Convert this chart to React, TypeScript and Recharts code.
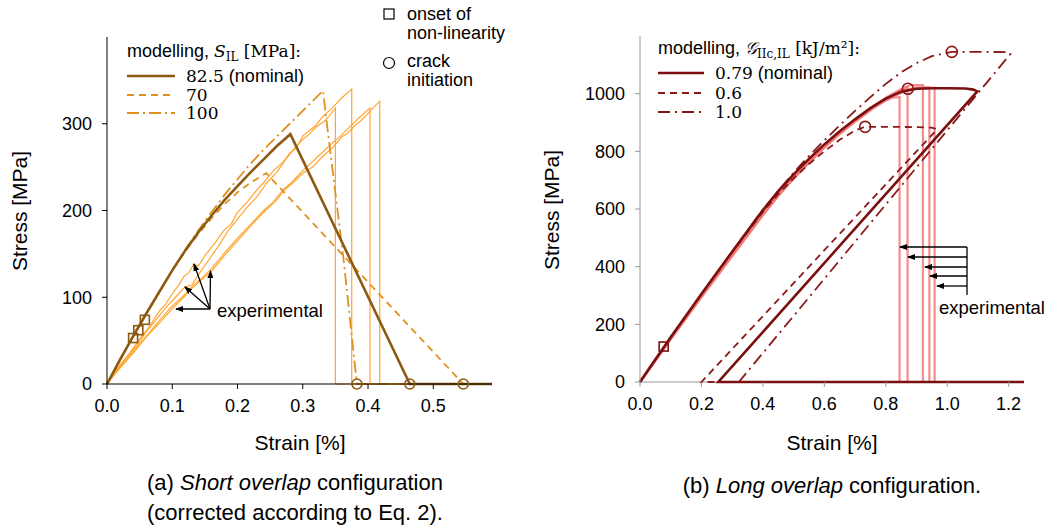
import React from 'react';
import { LineChart, Line, XAxis, YAxis } from 'recharts';

// ---------- (a) short overlap: strain [%], stress [MPa] ----------
const shortTicksX = [0, 0.1, 0.2, 0.3, 0.4, 0.5];
const shortTicksY = [0, 100, 200, 300];

const shortNominal = [
  [0, 0], [0.02, 28], [0.04, 55], [0.06, 81], [0.08, 106], [0.1, 131], [0.12, 154],
  [0.14, 175], [0.16, 194], [0.18, 212], [0.2, 228], [0.22, 244], [0.24, 259],
  [0.26, 274], [0.281, 288], [0.464, 0], [0.59, 0],
];
const short70 = [
  [0, 0], [0.02, 28], [0.04, 55], [0.06, 81], [0.08, 106], [0.1, 131], [0.12, 153],
  [0.14, 173], [0.16, 191], [0.18, 207], [0.2, 221], [0.22, 232], [0.244, 243],
  [0.546, 0], [0.59, 0],
];
const short100 = [
  [0, 0], [0.02, 28], [0.04, 55], [0.06, 81], [0.08, 106], [0.1, 131], [0.12, 155],
  [0.14, 177], [0.16, 198], [0.18, 218], [0.2, 236], [0.22, 254], [0.24, 270],
  [0.26, 285], [0.28, 300], [0.3, 315], [0.331, 338], [0.337, 300], [0.362, 147],
  [0.383, 0], [0.59, 0],
];
const shortExp1 = [
  [0, 0], [0.01, 12], [0.02, 22], [0.035, 36], [0.05, 52], [0.065, 66], [0.08, 84],
  [0.09, 92], [0.1, 104], [0.11, 114], [0.118, 124], [0.125, 128], [0.133, 138],
  [0.14, 136], [0.15, 148], [0.165, 162], [0.18, 178], [0.19, 184], [0.2, 198],
  [0.215, 210], [0.23, 224], [0.24, 232], [0.255, 246], [0.27, 256], [0.28, 266],
  [0.29, 272], [0.3, 286], [0.31, 292], [0.32, 298], [0.33, 308], [0.345, 318],
  [0.36, 330], [0.375, 340], [0.375, 0], [0.59, 0],
];
const shortExp2 = [
  [0, 0], [0.015, 16], [0.03, 30], [0.045, 44], [0.06, 60], [0.075, 74], [0.09, 88],
  [0.1, 96], [0.11, 104], [0.12, 112], [0.13, 114], [0.14, 126], [0.155, 142],
  [0.17, 158], [0.185, 176], [0.2, 190], [0.215, 204], [0.23, 216], [0.245, 232],
  [0.26, 244], [0.275, 260], [0.29, 274], [0.3, 282], [0.31, 288], [0.32, 296],
  [0.335, 304], [0.35, 318], [0.35, 0], [0.59, 0],
];
const shortExp3 = [
  [0, 0], [0.015, 14], [0.03, 27], [0.045, 40], [0.06, 54], [0.08, 70], [0.1, 87],
  [0.115, 98], [0.13, 110], [0.145, 120], [0.16, 130], [0.18, 148], [0.2, 165],
  [0.22, 182], [0.24, 198], [0.26, 212], [0.27, 222], [0.285, 232], [0.3, 243],
  [0.315, 250], [0.33, 262], [0.345, 272], [0.36, 285], [0.37, 290], [0.38, 298],
  [0.39, 304], [0.4, 312], [0.41, 320], [0.418, 326], [0.418, 0], [0.59, 0],
];
const shortExp4 = [
  [0, 0], [0.015, 15], [0.03, 28], [0.045, 42], [0.06, 55], [0.08, 73], [0.1, 90],
  [0.115, 100], [0.13, 112], [0.145, 122], [0.16, 133], [0.18, 151], [0.2, 168],
  [0.22, 184], [0.24, 200], [0.255, 210], [0.27, 224], [0.285, 234], [0.3, 246],
  [0.32, 260], [0.34, 274], [0.355, 284], [0.37, 295], [0.385, 306], [0.403, 318],
  [0.403, 0], [0.59, 0],
];
const shortOnset = [[0.04, 53], [0.048, 62], [0.058, 74]];
const shortCrack = [[0.383, 0], [0.464, 0], [0.546, 0]];

// ---------- (b) long overlap ----------
const longTicksX = [0, 0.2, 0.4, 0.6, 0.8, 1.0, 1.2];
const longTicksY = [0, 200, 400, 600, 800, 1000];
const longAxisLine = [[0, 0], [1.25, 0]];

const longNominal = [
  [0, 0], [0.05, 78], [0.1, 155], [0.2, 305], [0.3, 452], [0.4, 596], [0.45, 662],
  [0.5, 720], [0.55, 774], [0.6, 824], [0.65, 870], [0.7, 911], [0.75, 950],
  [0.8, 983], [0.85, 1007], [0.9, 1017], [0.95, 1019], [1.0, 1019], [1.06, 1018],
  [1.085, 1014], [1.098, 1008], [0.255, 0], [1.25, 0],
];
const long06 = [
  [0, 0], [0.1, 155], [0.2, 305], [0.3, 450], [0.4, 590], [0.45, 652], [0.5, 706],
  [0.55, 756], [0.6, 800], [0.65, 840], [0.7, 872], [0.733, 885], [0.8, 885],
  [0.9, 884], [0.95, 882], [0.967, 876], [0.2, 0], [1.25, 0],
];
const long10 = [
  [0, 0], [0.1, 155], [0.2, 305], [0.3, 452], [0.4, 598], [0.5, 726], [0.55, 784],
  [0.6, 838], [0.65, 890], [0.7, 940], [0.75, 988], [0.8, 1034], [0.85, 1074],
  [0.9, 1106], [0.95, 1130], [1.015, 1145], [1.1, 1145], [1.19, 1144], [1.206, 1138],
  [0.322, 0], [1.25, 0],
];
const longExp1 = [
  [0, 0], [0.1, 148], [0.2, 294], [0.3, 436], [0.4, 578], [0.45, 645], [0.5, 705],
  [0.55, 760], [0.6, 812], [0.65, 860], [0.7, 902], [0.76, 950], [0.8, 976],
  [0.82, 986], [0.845, 988], [0.845, 0], [1.25, 0],
];
const longExp2 = [
  [0, 0], [0.1, 150], [0.2, 298], [0.3, 440], [0.4, 584], [0.45, 650], [0.5, 710],
  [0.55, 766], [0.6, 818], [0.65, 864], [0.7, 906], [0.75, 948], [0.8, 982],
  [0.85, 1012], [0.871, 1024], [0.871, 0], [1.25, 0],
];
const longExp3 = [
  [0, 0], [0.1, 152], [0.2, 300], [0.3, 444], [0.4, 588], [0.45, 654], [0.5, 714],
  [0.55, 770], [0.6, 820], [0.65, 866], [0.7, 910], [0.75, 950], [0.8, 986],
  [0.85, 1016], [0.88, 1030], [0.921, 1030], [0.921, 0], [1.25, 0],
];
const longExp4 = [
  [0, 0], [0.1, 153], [0.2, 302], [0.3, 446], [0.4, 590], [0.45, 656], [0.5, 715],
  [0.55, 768], [0.6, 818], [0.65, 864], [0.7, 906], [0.75, 946], [0.8, 980],
  [0.86, 1012], [0.9, 1022], [0.942, 1022], [0.942, 0], [1.25, 0],
];
const longExp5 = [
  [0, 0], [0.1, 149], [0.2, 296], [0.3, 438], [0.4, 580], [0.45, 646], [0.5, 706],
  [0.55, 762], [0.6, 814], [0.65, 862], [0.7, 904], [0.75, 944], [0.8, 978],
  [0.87, 1012], [0.92, 1020], [0.959, 1020], [0.959, 0], [1.25, 0],
];
const longOnset = [[0.077, 123]];
const longCrack = [[0.733, 885], [0.872, 1017], [1.015, 1145]];

const pts = (a: number[][]) => a.map(([x, y]) => ({ x, y }));

const SANS = '"Liberation Sans", Arial, sans-serif';
const SERIF = '"DejaVu Serif", "Liberation Serif", serif';

const BROWN = '#8c5a12';
const ORANGE_M = '#e0901f';
const ORANGE_E = '#ffa733';
const DRED = '#7a1010';
const DRED2 = '#8a1818';
const SALMON = '#f47878';

const square = (color: string, s: number) => (p: any) => (
  <rect key={p.key} x={p.cx - s / 2} y={p.cy - s / 2} width={s} height={s} fill="none" stroke={color} strokeWidth={1.6} />
);
const circle = (color: string, r: number) => (p: any) => (
  <circle key={p.key} cx={p.cx} cy={p.cy} r={r} fill="none" stroke={color} strokeWidth={1.6} />
);

const tickStyle = { fill: '#000', fontSize: 18, fontFamily: SANS };

function ShortChart() {
  return (
    <LineChart width={520} height={532} margin={{ top: 37, right: 28, bottom: 118, left: 47 }}>
      <XAxis type="number" dataKey="x" domain={[0, 0.59]} ticks={shortTicksX}
        tickFormatter={(v: number) => v.toFixed(1)} height={30} stroke="#000"
        tick={tickStyle} tickSize={5} tickMargin={10} />
      <YAxis type="number" dataKey="y" domain={[0, 400]} ticks={shortTicksY} width={60}
        stroke="#000" tick={tickStyle} tickSize={5} tickMargin={10} />
      {[shortExp1, shortExp2, shortExp3, shortExp4].map((d, i) => (
        <Line key={`se${i}`} data={pts(d)} dataKey="y" stroke={ORANGE_E} strokeWidth={1.2}
          dot={false} isAnimationActive={false} />
      ))}
      <Line data={pts(short70)} dataKey="y" stroke={ORANGE_M} strokeWidth={1.8}
        strokeDasharray="7 5" dot={false} isAnimationActive={false} />
      <Line data={pts(short100)} dataKey="y" stroke={ORANGE_M} strokeWidth={1.8}
        strokeDasharray="12 4 2 4" dot={false} isAnimationActive={false} />
      <Line data={pts(shortNominal)} dataKey="y" stroke={BROWN} strokeWidth={2.6}
        dot={false} isAnimationActive={false} />
      <Line data={pts(shortOnset)} dataKey="y" stroke="none" dot={square(BROWN, 9)}
        isAnimationActive={false} />
      <Line data={pts(shortCrack)} dataKey="y" stroke="none" dot={circle(BROWN, 5)}
        isAnimationActive={false} />
    </LineChart>
  );
}

function LongChart() {
  return (
    <LineChart width={532} height={532} margin={{ top: 36, right: 28, bottom: 120, left: 60 }}>
      <XAxis type="number" dataKey="x" domain={[0, 1.25]} ticks={longTicksX}
        tickFormatter={(v: number) => v.toFixed(1)} height={30} stroke="#9a9a9a"
        axisLine={false} tick={tickStyle} tickSize={5} tickMargin={10} />
      <YAxis type="number" dataKey="y" domain={[0, 1200]} ticks={longTicksY} width={60}
        stroke="#9a9a9a" tick={tickStyle} tickSize={5} tickMargin={10} />
      {/* gray x-axis baseline drawn beneath the curves */}
      <Line data={pts(longAxisLine)} dataKey="y" stroke="#9a9a9a" strokeWidth={1}
        dot={false} isAnimationActive={false} />
      {[longExp1, longExp2, longExp3, longExp4, longExp5].map((d, i) => (
        <Line key={`le${i}`} data={pts(d)} dataKey="y" stroke={SALMON} strokeOpacity={0.85}
          strokeWidth={2.2} dot={false} isAnimationActive={false} />
      ))}
      <Line data={pts(long06)} dataKey="y" stroke={DRED2} strokeWidth={1.8}
        strokeDasharray="7 5" dot={false} isAnimationActive={false} />
      <Line data={pts(long10)} dataKey="y" stroke={DRED2} strokeWidth={1.8}
        strokeDasharray="12 5 2 5" dot={false} isAnimationActive={false} />
      <Line data={pts(longNominal)} dataKey="y" stroke={DRED} strokeWidth={2.6}
        dot={false} isAnimationActive={false} />
      <Line data={pts(longOnset)} dataKey="y" stroke="none" dot={square(DRED, 9)}
        isAnimationActive={false} />
      <Line data={pts(longCrack)} dataKey="y" stroke="none" dot={circle(DRED2, 5.5)}
        isAnimationActive={false} />
    </LineChart>
  );
}

function Overlay() {
  const arrow = (x1: number, y1: number, x2: number, y2: number, k: string) => (
    <line key={k} x1={x1} y1={y1} x2={x2} y2={y2} stroke="#000" strokeWidth={1.3} markerEnd="url(#ah)" />
  );
  return (
    <svg width={1052} height={532} style={{ position: 'absolute', left: 0, top: 0, pointerEvents: 'none' }}>
      <defs>
        <marker id="ah" markerWidth={8} markerHeight={6} refX={7} refY={3} orient="auto" markerUnits="userSpaceOnUse">
          <path d="M0,0 L8,3 L0,6 z" fill="#000" />
        </marker>
      </defs>
      <g fontFamily={SANS} fill="#000">
        {/* axis titles */}
        <text x={300} y={450} fontSize={21} textAnchor="middle">Strain [%]</text>
        <text x={832} y={450} fontSize={21} textAnchor="middle">Strain [%]</text>
        <text transform="translate(27,211) rotate(-90)" fontSize={21} textAnchor="middle">Stress [MPa]</text>
        <text transform="translate(559,210) rotate(-90)" fontSize={21} textAnchor="middle">Stress [MPa]</text>

        {/* captions */}
        <text x={295} y={490} fontSize={22} textAnchor="middle">(a) <tspan fontStyle="italic">Short overlap</tspan> configuration</text>
        <text x={295} y={520} fontSize={22} textAnchor="middle">(corrected according to Eq. 2).</text>
        <text x={832} y={493} fontSize={22} textAnchor="middle">(b) <tspan fontStyle="italic">Long overlap</tspan> configuration.</text>

        {/* left legend */}
        <text x={127} y={57} fontSize={18}>modelling, <tspan fontFamily={SERIF} fontStyle="italic" fontSize={17}>S</tspan><tspan fontFamily={SERIF} fontSize={12} dy={4}>IL</tspan><tspan fontFamily={SERIF} fontSize={17} dy={-4}> [MPa]:</tspan></text>
        <line x1={127} y1={76} x2={175} y2={76} stroke={BROWN} strokeWidth={2.6} />
        <line x1={127} y1={95} x2={175} y2={95} stroke={ORANGE_M} strokeWidth={1.8} strokeDasharray="7 5" />
        <line x1={127} y1={113} x2={175} y2={113} stroke={ORANGE_M} strokeWidth={1.8} strokeDasharray="12 4 2 4" />
        <text x={186} y={82} fontSize={18}><tspan fontFamily={SERIF} fontSize={17}>82.5</tspan> (nominal)</text>
        <text x={186} y={101} fontSize={17} fontFamily={SERIF}>70</text>
        <text x={186} y={119} fontSize={17} fontFamily={SERIF}>100</text>

        {/* marker key */}
        <rect x={384} y={9} width={10} height={10} fill="none" stroke="#000" strokeWidth={1.2} />
        <text x={407} y={20} fontSize={18}>onset of</text>
        <text x={407} y={39} fontSize={18}>non-linearity</text>
        <circle cx={389} cy={63} r={5.5} fill="none" stroke="#000" strokeWidth={1.2} />
        <text x={407} y={67} fontSize={18}>crack</text>
        <text x={407} y={86} fontSize={18}>initiation</text>

        {/* left experimental arrows */}
        {arrow(210, 309, 194, 264, 'a1')}
        {arrow(210, 309, 185, 287, 'a2')}
        {arrow(210, 309, 176, 309, 'a3')}
        {arrow(210, 309, 210.5, 271, 'a4')}
        <text x={217} y={317} fontSize={18.5}>experimental</text>

        {/* right legend */}
        <text x={658} y={54} fontSize={18}>modelling, <tspan fontFamily={SERIF} fontStyle="italic" fontSize={17}>𝒢</tspan><tspan fontFamily={SERIF} fontSize={12} dy={4}>IIc,IL</tspan><tspan fontFamily={SERIF} fontSize={17} dy={-4}> [kJ/m²]:</tspan></text>
        <line x1={658} y1={73} x2={704} y2={73} stroke={DRED} strokeWidth={2.6} />
        <line x1={658} y1={93} x2={704} y2={93} stroke={DRED2} strokeWidth={1.8} strokeDasharray="7 5" />
        <line x1={658} y1={112} x2={704} y2={112} stroke={DRED2} strokeWidth={1.8} strokeDasharray="12 5 2 5" />
        <text x={715} y={79} fontSize={18}><tspan fontFamily={SERIF} fontSize={17}>0.79</tspan> (nominal)</text>
        <text x={715} y={99} fontSize={17} fontFamily={SERIF}>0.6</text>
        <text x={715} y={118} fontSize={17} fontFamily={SERIF}>1.0</text>

        {/* right experimental arrows */}
        <line x1={967} y1={247} x2={967} y2={295} stroke="#000" strokeWidth={1.3} />
        {arrow(967, 247, 900, 247, 'b1')}
        {arrow(967, 257, 908, 257, 'b2')}
        {arrow(967, 267, 925, 267, 'b3')}
        {arrow(967, 276, 930, 276, 'b4')}
        {arrow(967, 286, 937, 286, 'b5')}
        <text x={939} y={314} fontSize={18.5}>experimental</text>
      </g>
    </svg>
  );
}

export default function App() {
  return (
    <div style={{ position: 'absolute', left: 0, top: 0, width: 1052, height: 532, background: '#fff', fontFamily: SANS }}>
      <div style={{ position: 'absolute', left: 0, top: 0 }}>
        <ShortChart />
      </div>
      <div style={{ position: 'absolute', left: 520, top: 0 }}>
        <LongChart />
      </div>
      <Overlay />
    </div>
  );
}
